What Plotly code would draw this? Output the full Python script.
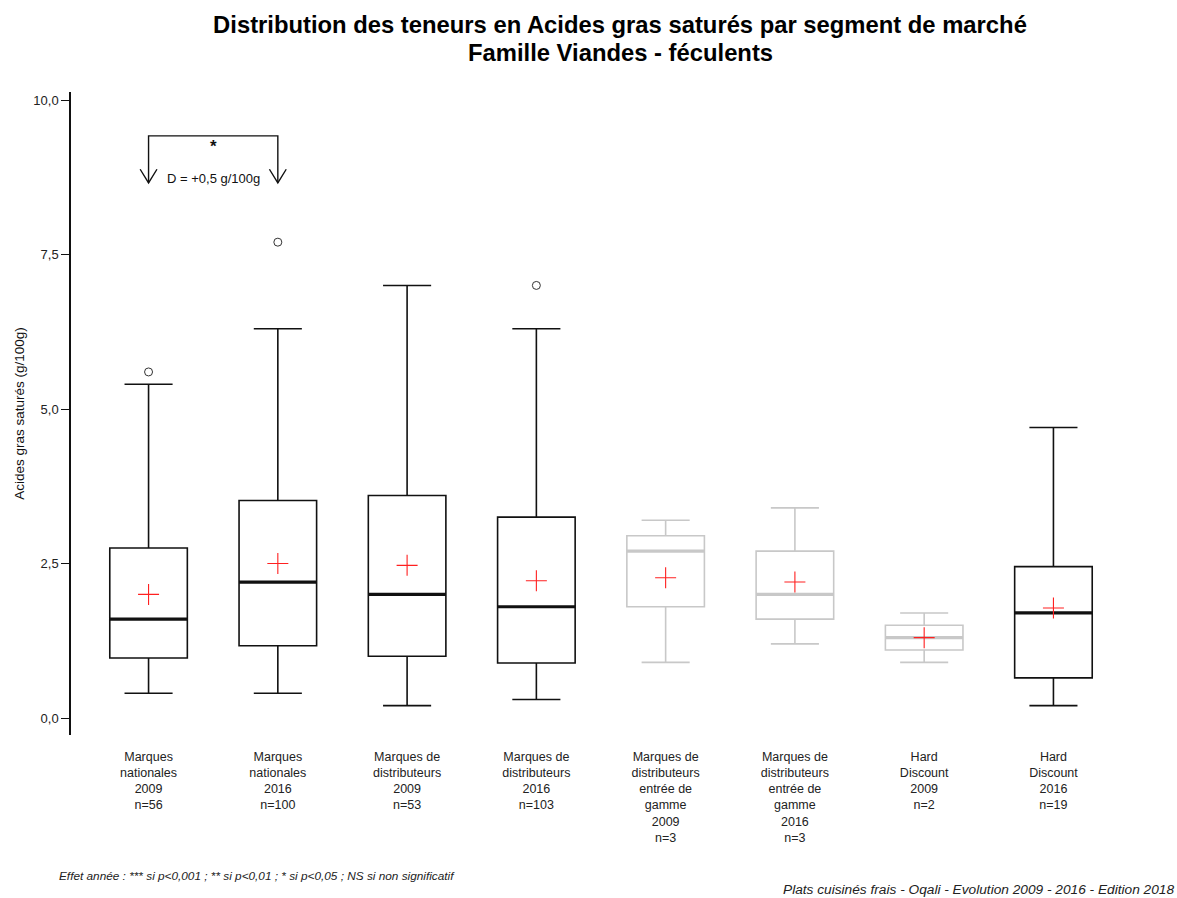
import plotly.graph_objects as go

# segments de marché (une boîte par segment)
categories = [
    "Marques<br>nationales<br>2009<br>n=56",
    "Marques<br>nationales<br>2016<br>n=100",
    "Marques de<br>distributeurs<br>2009<br>n=53",
    "Marques de<br>distributeurs<br>2016<br>n=103",
    "Marques de<br>distributeurs<br>entrée de<br>gamme<br>2009<br>n=3",
    "Marques de<br>distributeurs<br>entrée de<br>gamme<br>2016<br>n=3",
    "Hard<br>Discount<br>2009<br>n=2",
    "Hard<br>Discount<br>2016<br>n=19",
]
lower_whisker = [0.4, 0.4, 0.2, 0.3, 0.9, 1.2, 0.9, 0.2]
q1 = [0.97, 1.17, 1.0, 0.89, 1.8, 1.6, 1.1, 0.65]
median = [1.6, 2.2, 2.0, 1.8, 2.7, 2.0, 1.3, 1.7]
q3 = [2.75, 3.52, 3.6, 3.25, 2.95, 2.7, 1.5, 2.45]
upper_whisker = [5.4, 6.3, 7.0, 6.3, 3.2, 3.4, 1.7, 4.7]
mean = [2.0, 2.5, 2.47, 2.22, 2.27, 2.2, 1.3, 1.78]
small_sample = [False, False, False, False, True, True, True, False]

# valeurs extrêmes (segment, valeur)
outlier_seg = [0, 1, 3]
outlier_val = [5.6, 7.7, 7.0]

# comparaison 2009 / 2016 marques nationales
test_pair = (0, 1)
test_level = 9.42
test_arrow_end = 8.66
test_sig = "*"
test_diff = "D = +0,5 g/100g"

BLACK = "#111111"
GREY = "#c8c8c8"
BOX_W = 0.6
W, H = 1177, 898
L, R, T, B = 71, 46, 92, 163

positions = list(range(len(categories)))
fig = go.Figure()

for i, pos in enumerate(positions):
    col = GREY if small_sample[i] else BLACK
    fig.add_trace(go.Box(
        x=[pos], q1=[q1[i]], median=[median[i]], q3=[q3[i]],
        lowerfence=[lower_whisker[i]], upperfence=[upper_whisker[i]],
        width=BOX_W, whiskerwidth=0.62,
        line=dict(color=col, width=1.6), fillcolor="white",
        showlegend=False, hoverinfo="skip",
    ))
    # médiane en trait épais
    fig.add_trace(go.Scatter(
        x=[pos - BOX_W / 2, pos + BOX_W / 2], y=[median[i], median[i]],
        mode="lines", line=dict(color=col, width=3.2),
        showlegend=False, hoverinfo="skip",
    ))

# moyennes
fig.add_trace(go.Scatter(
    x=positions, y=mean, mode="markers",
    marker=dict(symbol="cross-thin", size=15, line=dict(color="#ff2020", width=1.1)),
    showlegend=False, hoverinfo="skip",
))
# outliers
fig.add_trace(go.Scatter(
    x=outlier_seg, y=outlier_val, mode="markers",
    marker=dict(symbol="circle-open", size=8, color="#333333", line=dict(width=1)),
    showlegend=False, hoverinfo="skip",
))

# crochet de comparaison
a, b = test_pair
shapes = [dict(type="path", xref="x", yref="y",
               path=f"M{a},{test_arrow_end} L{a},{test_level} L{b},{test_level} L{b},{test_arrow_end}",
               line=dict(color=BLACK, width=1.4))]
for p in test_pair:
    shapes.append(dict(type="path", xref="x", yref="y",
                       path=f"M{p - 0.065},{test_arrow_end + 0.22} L{p},{test_arrow_end} L{p + 0.065},{test_arrow_end + 0.22}",
                       line=dict(color=BLACK, width=1.4)))


def px_to_paper(px, py):
    return (px - L) / (W - L - R), (H - B - py) / (H - T - B)


fx1, fy1 = px_to_paper(57, 876)
fx2, fy2 = px_to_paper(1176, 889)
tx, ty = px_to_paper(620, 52)
annotations = [
    dict(x=(a + b) / 2, y=test_level - 0.17, xref="x", yref="y", text=f"<b>{test_sig}</b>",
         showarrow=False, font=dict(size=17, color=BLACK)),
    dict(x=(a + b) / 2, y=test_arrow_end + 0.07, xref="x", yref="y", text=test_diff,
         showarrow=False, font=dict(size=13, color=BLACK)),
    dict(x=fx1, y=fy1, xref="paper", yref="paper", xanchor="left", yanchor="middle",
         text="<i>Effet année : *** si p<0,001 ; ** si p<0,01 ; * si p<0,05 ; NS si non significatif</i>",
         showarrow=False, font=dict(size=11.8, color="#222222")),
    dict(x=fx2, y=fy2, xref="paper", yref="paper", xanchor="right", yanchor="middle",
         text="<i>Plats cuisinés frais - Oqali - Evolution 2009 - 2016 - Edition 2018</i>",
         showarrow=False, font=dict(size=13.7, color="#222222")),
    # deuxième ligne du titre
    dict(x=tx, y=ty, xref="paper", yref="paper", xanchor="center", yanchor="middle",
         text="<b>Famille Viandes - féculents</b>",
         showarrow=False, font=dict(size=23.8, color="#000000")),
]

fig.update_layout(
    width=W, height=H,
    margin=dict(l=L, r=R, t=T, b=B),
    plot_bgcolor="white", paper_bgcolor="white",
    font=dict(family="Liberation Sans, Arial, sans-serif", color="#111111"),
    separators=",.",
    title=dict(
        text="<b>Distribution des teneurs en Acides gras saturés par segment de marché</b>",
        x=620 / W, xref="container", xanchor="center",
        y=1 - 25 / H, yref="container", yanchor="middle",
        font=dict(size=23.8, color="#000000"),
    ),
    xaxis=dict(
        range=[-0.6, 7.6], tickvals=positions, ticktext=categories,
        showline=False, showgrid=False, zeroline=False, ticks="",
        tickfont=dict(size=12.5, color="#222222"), ticklabelstandoff=12,
    ),
    yaxis=dict(
        range=[-0.275, 10.13], tickvals=[0, 2.5, 5, 7.5, 10], tickformat=".1f",
        showline=True, linecolor=BLACK, linewidth=1.5, showgrid=False, zeroline=False,
        ticks="outside", ticklen=8, tickcolor=BLACK, tickwidth=1.2,
        tickfont=dict(size=13, color="#222222"),
        title=dict(text="Acides gras saturés (g/100g)", font=dict(size=13.5, color="#111111"), standoff=6),
    ),
    shapes=shapes,
    annotations=annotations,
)

# pas de marge autour de la page, pas de barre d'outils
fig.write_html("out.html", config={"displayModeBar": False},
               post_script="document.body.style.margin='0';")
